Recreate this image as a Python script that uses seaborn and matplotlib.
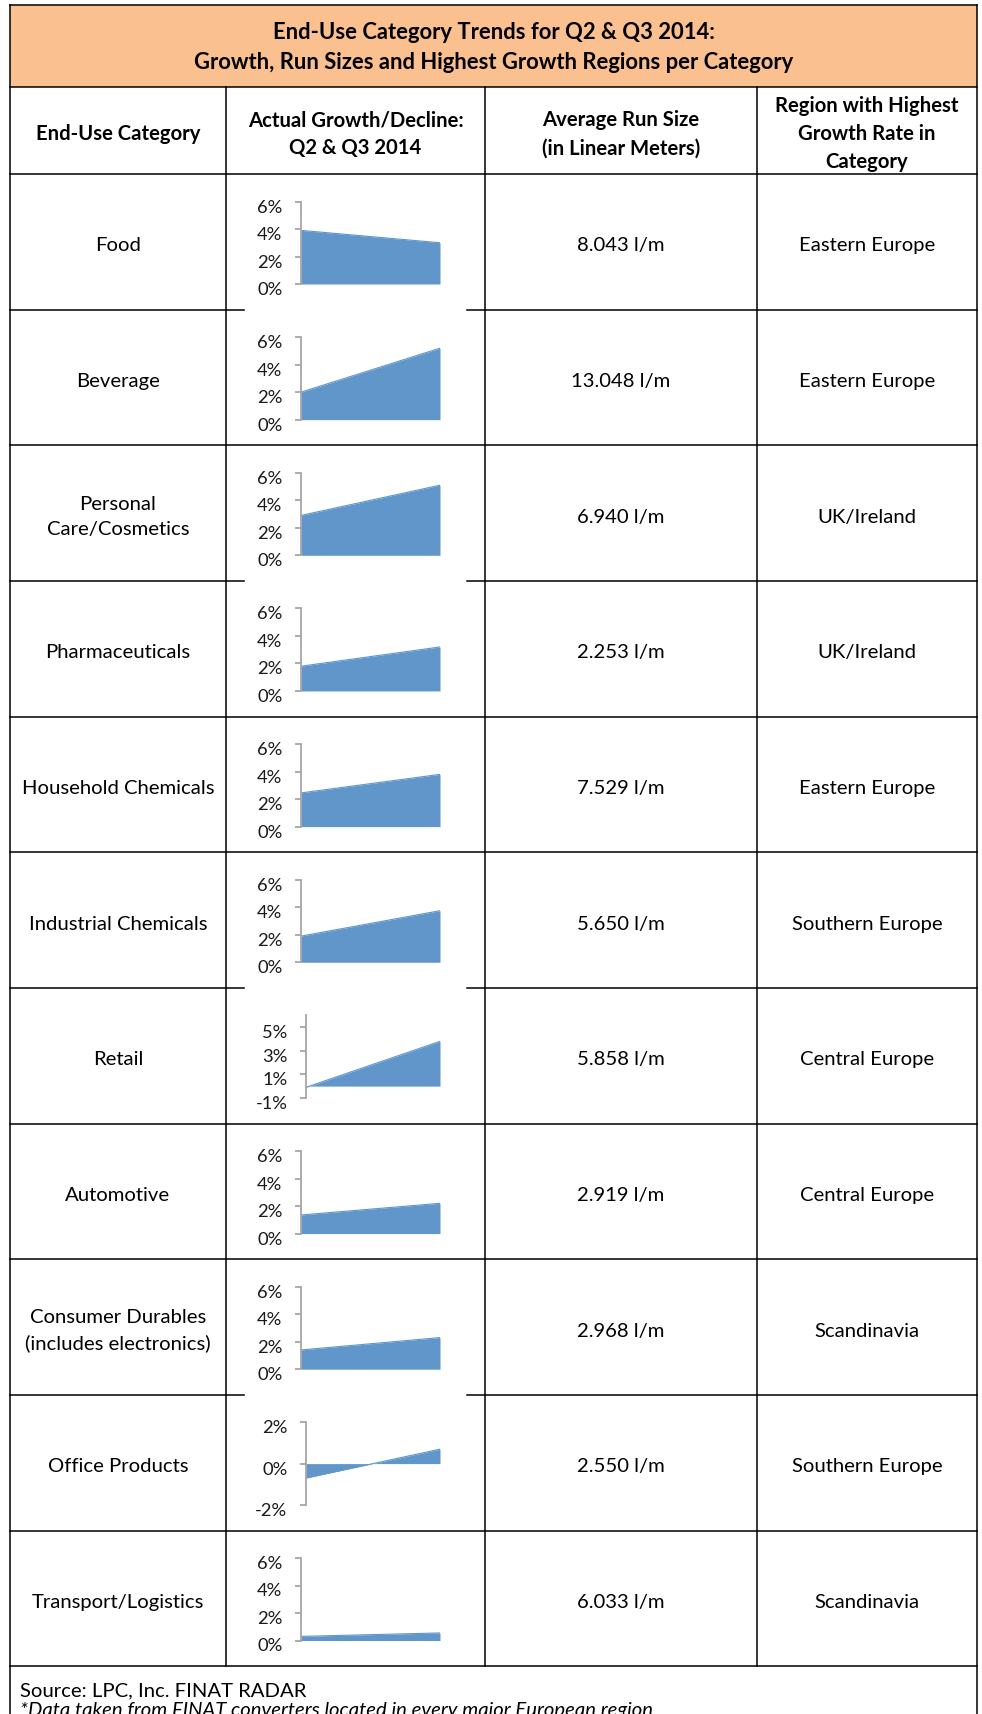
import matplotlib
matplotlib.use("Agg")
import matplotlib.pyplot as plt
from matplotlib.patches import Rectangle
from matplotlib.transforms import ScaledTranslation
import pandas as pd
import seaborn as sns

# ---- table content -------------------------------------------------------
categories = [
    "Food", "Beverage", "Personal\nCare/Cosmetics", "Pharmaceuticals",
    "Household Chemicals", "Industrial Chemicals", "Retail", "Automotive",
    "Consumer Durables\n(includes electronics)", "Office Products",
    "Transport/Logistics",
]
growth_q2 = [3.9, 2.0, 2.9, 1.8, 2.45, 1.9, -0.1, 1.35, 1.4, -0.7, 0.3]
growth_q3 = [3.0, 5.2, 5.1, 3.2, 3.8, 3.75, 3.8, 2.2, 2.3, 0.7, 0.55]
run_sizes = ["8.043 l/m", "13.048 l/m", "6.940 l/m", "2.253 l/m", "7.529 l/m",
             "5.650 l/m", "5.858 l/m", "2.919 l/m", "2.968 l/m", "2.550 l/m",
             "6.033 l/m"]
top_regions = ["Eastern Europe", "Eastern Europe", "UK/Ireland", "UK/Ireland",
               "Eastern Europe", "Southern Europe", "Central Europe",
               "Central Europe", "Scandinavia", "Southern Europe", "Scandinavia"]

# y-axis range and ticks (in %) of the sparkline charts
default_range = (0, 6, [0, 2, 4, 6])
axis_ranges = {"Retail": (-1, 6, [-1, 1, 3, 5]),
               "Office Products": (-2, 2, [-2, 0, 2])}

title_lines = "End-Use Category Trends for Q2 & Q3 2014:\nGrowth, Run Sizes and Highest Growth Regions per Category"
col_headers = ["End-Use Category", "Actual Growth/Decline:\nQ2 & Q3 2014",
               "Average Run Size\n(in Linear Meters)",
               "Region with Highest\nGrowth Rate in\nCategory"]
source_note = "Source: LPC, Inc. FINAT RADAR"
data_note = "*Data taken from FINAT converters located in every major European region"

# ---- style ---------------------------------------------------------------
sns.set_theme(style="white")
plt.rcParams["font.family"] = ["Lato", "DejaVu Sans"]

AREA = "#6096CA"
AXIS_GRAY = "#A6A6A6"
BAND = "#FAC090"
LINE_W = 1.1
BODY_SIZE = 14.6
TITLE_SIZE = 15.8
TICK_SIZE = 13.2

W, H, DPI = 982, 1715, 100
fig = plt.figure(figsize=(W / DPI, H / DPI), dpi=DPI)
grid = fig.add_axes([0, 0, 1, 1])
grid.set_xlim(0, W)
grid.set_ylim(H, 0)
grid.axis("off")

# ---- table geometry (pixels) ----------------------------------------------
TOP, BAND_BOTTOM, HEAD_BOTTOM = 5.5, 87.5, 175.0
ROW_H = 135.65
COLS = [10, 226, 485, 757, 977]
n_rows = len(categories)
TABLE_BOTTOM = HEAD_BOTTOM + n_rows * ROW_H
CHART_GAP = (244, 467)          # horizontal rules hidden behind chart frames
gap_rules = {1, 3, 6, 9}

grid.add_patch(Rectangle((COLS[0], TOP), COLS[-1] - COLS[0], BAND_BOTTOM - TOP,
                         facecolor=BAND, edgecolor="none", zorder=0))

def hline(y, x0=COLS[0], x1=COLS[-1]):
    grid.plot([x0, x1], [y, y], color="black", lw=LINE_W, solid_capstyle="projecting")

def vline(x, y0, y1):
    grid.plot([x, x], [y0, y1], color="black", lw=LINE_W, solid_capstyle="projecting")

hline(TOP)
hline(BAND_BOTTOM)
hline(HEAD_BOTTOM)
for k in range(1, n_rows + 1):
    y = HEAD_BOTTOM + k * ROW_H
    if k in gap_rules:
        hline(y, COLS[0], CHART_GAP[0])
        hline(y, CHART_GAP[1], COLS[-1])
    else:
        hline(y)
vline(COLS[0], TOP, H + 5)
vline(COLS[-1], TOP, H + 5)
for x in COLS[1:-1]:
    vline(x, BAND_BOTTOM, TABLE_BOTTOM)

# ---- title and column headers -------------------------------------------------
grid.text((COLS[0] + COLS[-1]) / 2, (TOP + BAND_BOTTOM) / 2 + 1, title_lines,
          ha="center", va="center", fontsize=TITLE_SIZE, fontweight="bold",
          linespacing=1.5, color="black")
for c, label in enumerate(col_headers):
    grid.text((COLS[c] + COLS[c + 1]) / 2, (BAND_BOTTOM + HEAD_BOTTOM) / 2 + 3, label,
              ha="center", va="center", fontsize=BODY_SIZE, fontweight="bold",
              linespacing=1.5, color="black")

# ---- rows ----------------------------------------------------------------
for i, cat in enumerate(categories):
    top = HEAD_BOTTOM + i * ROW_H
    yc = top + ROW_H / 2 + 3
    grid.text((COLS[0] + COLS[1]) / 2, yc, cat, ha="center", va="center",
              fontsize=BODY_SIZE, linespacing=1.55, color="black")
    grid.text((COLS[2] + COLS[3]) / 2, yc, run_sizes[i], ha="center",
              va="center", fontsize=BODY_SIZE, color="black")
    grid.text((COLS[3] + COLS[4]) / 2, yc, top_regions[i], ha="center",
              va="center", fontsize=BODY_SIZE, color="black")

    # sparkline area chart of the Q2 -> Q3 growth
    lo, hi, ticks = axis_ranges.get(cat, default_range)
    x0 = 306 if lo < 0 else 301
    ax = fig.add_axes([x0 / W, 1 - (top + 110) / H, (440 - x0) / W, 82.5 / H])
    df = pd.DataFrame({"quarter": [0, 1], "growth": [growth_q2[i], growth_q3[i]]})
    ax.fill_between(df["quarter"], df["growth"], 0, color=AREA, lw=0, zorder=1)
    sns.lineplot(data=df, x="quarter", y="growth", ax=ax, color=AREA, lw=0.8,
                 zorder=2)
    ax.set_xlim(0, 1)
    ax.set_ylim(lo, hi)
    ax.set_xticks([])
    ax.set_yticks(ticks)
    ax.set_yticklabels([f"{t}%" for t in ticks])
    ax.set_xlabel("")
    ax.set_ylabel("")
    ax.patch.set_visible(False)
    for side in ("top", "right", "bottom"):
        ax.spines[side].set_visible(False)
    ax.spines["left"].set_color(AXIS_GRAY)
    ax.spines["left"].set_linewidth(1.3)
    ax.spines["left"].set_zorder(5)
    ax.tick_params(axis="y", left=True, direction="out", length=4.4, width=1.3,
                   color=AXIS_GRAY, labelsize=TICK_SIZE, labelcolor="#1a1a1a",
                   pad=9.0)
    shift = ScaledTranslation(0, -3.5 / DPI, fig.dpi_scale_trans)
    for tick in ax.yaxis.get_major_ticks():
        tick.label1.set_transform(tick.label1.get_transform() + shift)

# ---- footer --------------------------------------------------------------
grid.text(COLS[0] + 10, TABLE_BOTTOM + 24, source_note, ha="left", va="center",
          fontsize=BODY_SIZE, color="black")
grid.text(COLS[0] + 10, H + 1, data_note, ha="left", va="baseline",
          fontsize=BODY_SIZE, fontstyle="italic", color="black")

fig.savefig("out.png", dpi=DPI, facecolor="white")
